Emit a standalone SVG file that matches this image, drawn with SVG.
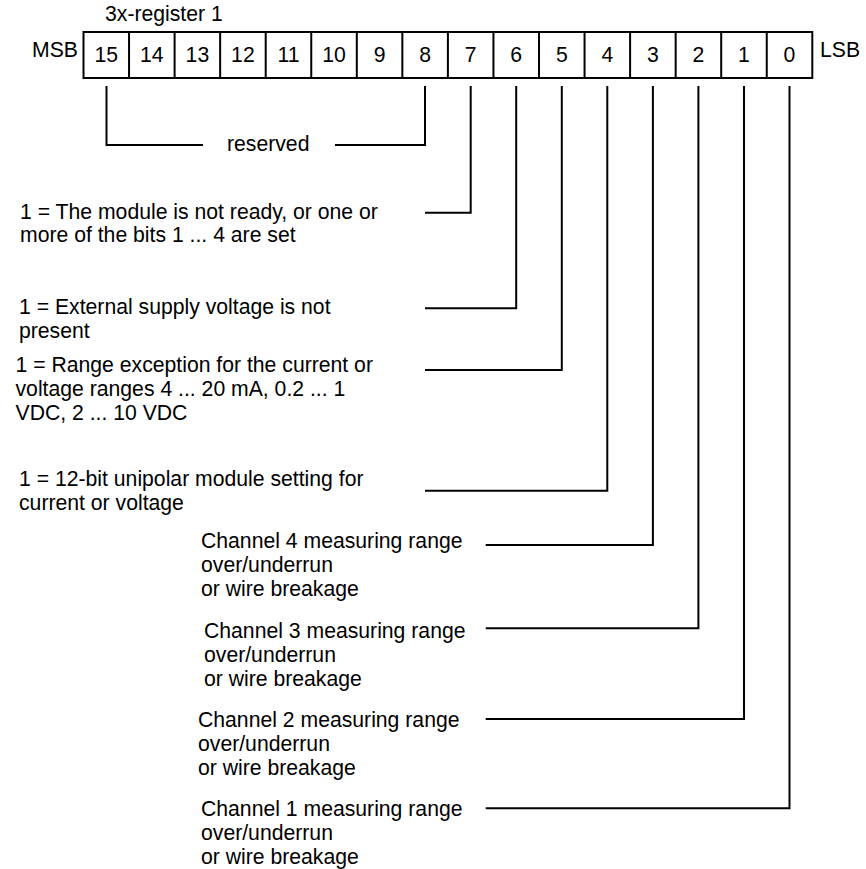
<svg xmlns="http://www.w3.org/2000/svg" width="866" height="869" viewBox="0 0 866 869">
<style>
  text { font-family: "Liberation Sans", Arial, Helvetica, sans-serif; font-size: 21.2px; fill: #000; }
  .num { text-anchor: middle; }
  .cell { fill: none; stroke: #000; stroke-width: 2; }
  .wire { fill: none; stroke: #000; stroke-width: 2; stroke-linejoin: miter; }
</style>
<rect x="0" y="0" width="866" height="869" fill="#fff"/>
<g id="register">
  <text x="105" y="21">3x-register 1</text>
  <text x="32" y="57">MSB</text>
  <text x="820" y="57">LSB</text>
  <rect class="cell" x="83.5" y="32" width="728.8" height="46"/>
  <path class="cell" d="M129.05 32V78M174.6 32V78M220.15 32V78M265.7 32V78M311.25 32V78M356.8 32V78M402.35 32V78M447.9 32V78M493.45 32V78M539 32V78M584.55 32V78M630.1 32V78M675.65 32V78M721.2 32V78M766.75 32V78"/>
  <text class="num" x="106.3" y="62">15</text>
  <text class="num" x="151.8" y="62">14</text>
  <text class="num" x="197.4" y="62">13</text>
  <text class="num" x="242.9" y="62">12</text>
  <text class="num" x="288.5" y="62">11</text>
  <text class="num" x="334" y="62">10</text>
  <text class="num" x="379.6" y="62">9</text>
  <text class="num" x="425.1" y="62">8</text>
  <text class="num" x="470.7" y="62">7</text>
  <text class="num" x="516.2" y="62">6</text>
  <text class="num" x="561.8" y="62">5</text>
  <text class="num" x="607.3" y="62">4</text>
  <text class="num" x="652.9" y="62">3</text>
  <text class="num" x="698.4" y="62">2</text>
  <text class="num" x="744" y="62">1</text>
  <text class="num" x="789.5" y="62">0</text>
</g>
<g id="connectors">
  <path class="wire" d="M106.5 86V145H203"/>
  <path class="wire" d="M335 145H425V86"/>
  <path class="wire" d="M425 212.7H470.7V86"/>
  <path class="wire" d="M425 308.3H516.2V86"/>
  <path class="wire" d="M425 370H561.8V86"/>
  <path class="wire" d="M425 490.7H607.3V86"/>
  <path class="wire" d="M485.7 545H652.9V86"/>
  <path class="wire" d="M485.7 628.3H698.4V86"/>
  <path class="wire" d="M485.7 719H744V86"/>
  <path class="wire" d="M485.7 808.3H789.5V86"/>
</g>
<g id="bits-15-8">
  <text x="227" y="151">reserved</text>
</g>
<g id="bit-7">
  <text x="20" y="219">1 = The module is not ready, or one or</text>
  <text x="20" y="242">more of the bits 1 ... 4 are set</text>
</g>
<g id="bit-6">
  <text x="19" y="314">1 = External supply voltage is not</text>
  <text x="19" y="338">present</text>
</g>
<g id="bit-5">
  <text x="15.5" y="372">1 = Range exception for the current or</text>
  <text x="15.5" y="396">voltage ranges 4 ... 20 mA, 0.2 ... 1</text>
  <text x="15.5" y="420">VDC, 2 ... 10 VDC</text>
</g>
<g id="bit-4">
  <text x="19" y="486">1 = 12-bit unipolar module setting for</text>
  <text x="19" y="510">current or voltage</text>
</g>
<g id="bit-3">
  <text x="201" y="548">Channel 4 measuring range</text>
  <text x="201" y="572">over/underrun</text>
  <text x="201" y="596">or wire breakage</text>
</g>
<g id="bit-2">
  <text x="204" y="638">Channel 3 measuring range</text>
  <text x="204" y="662">over/underrun</text>
  <text x="204" y="686">or wire breakage</text>
</g>
<g id="bit-1">
  <text x="198" y="727">Channel 2 measuring range</text>
  <text x="198" y="751">over/underrun</text>
  <text x="198" y="775">or wire breakage</text>
</g>
<g id="bit-0">
  <text x="201" y="816">Channel 1 measuring range</text>
  <text x="201" y="840">over/underrun</text>
  <text x="201" y="864">or wire breakage</text>
</g>
</svg>
